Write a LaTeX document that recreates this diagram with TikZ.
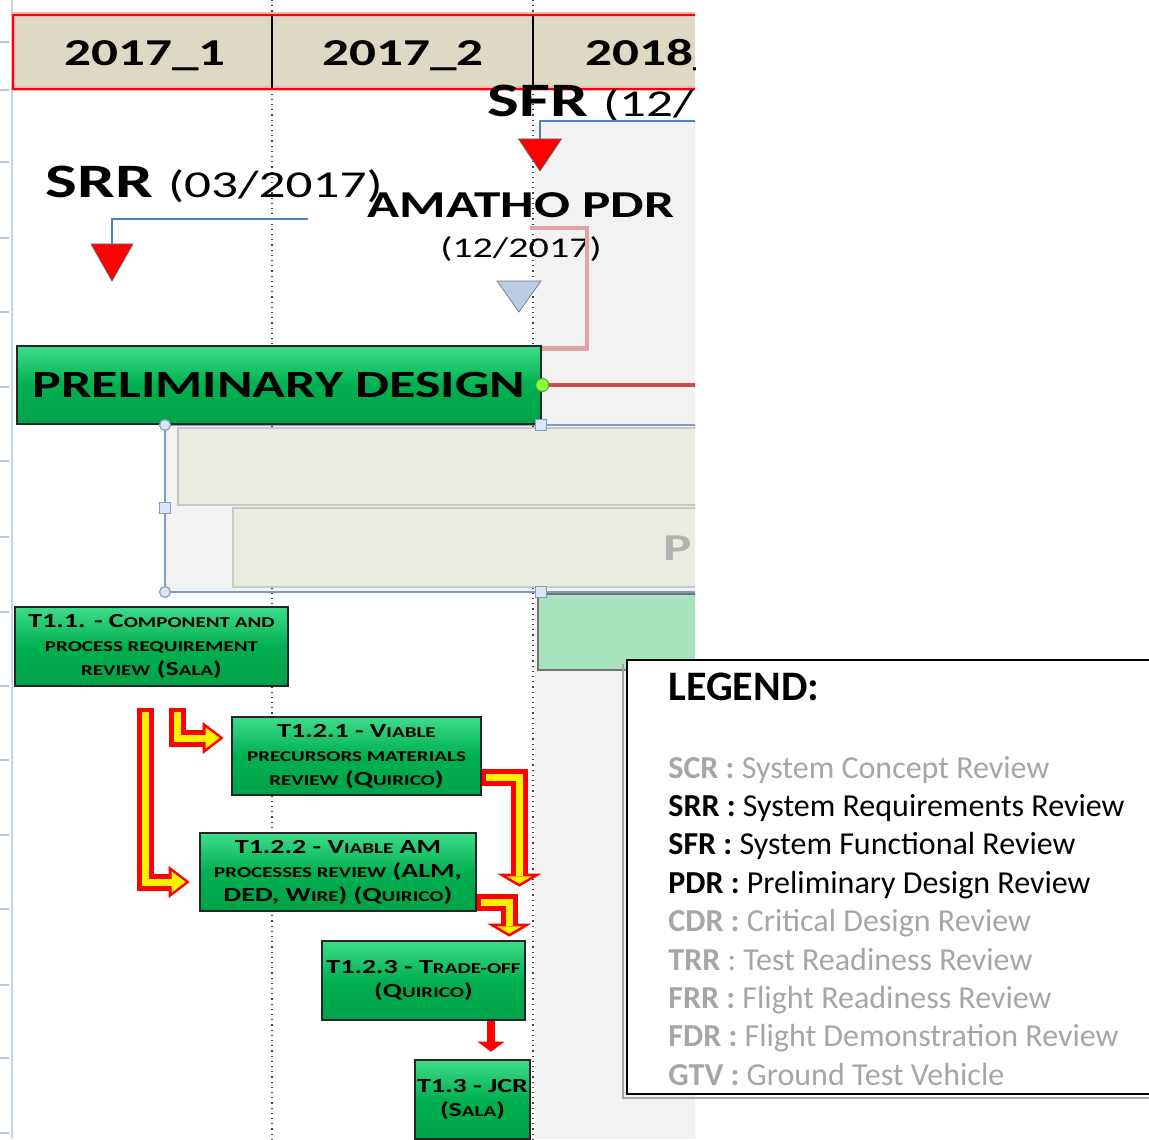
\documentclass[tikz,border=0pt]{standalone}
\usepackage{fontspec}
\setmainfont{Carlito}
\newfontfamily\chartfont{Carlito}[FakeStretch=1.4]
\usetikzlibrary{shapes.geometric,arrows.meta}

\definecolor{hdrbeige}{HTML}{DDD9C3}
\definecolor{hdrpink}{HTML}{F4B6B6}
\definecolor{chartgray}{HTML}{F2F2F2}
\definecolor{linkblue}{HTML}{4F81BD}
\definecolor{linkpink}{HTML}{E3A3A3}
\definecolor{pdred}{HTML}{C0504D}
\definecolor{boxtop}{HTML}{3FDC8A}
\definecolor{boxgreen}{HTML}{00B050}
\definecolor{boxbottom}{HTML}{00A248}
\definecolor{barbeige}{HTML}{EBECE1}
\definecolor{barmint}{HTML}{A8E3C0}
\definecolor{handleblue}{HTML}{DCE6F2}
\definecolor{handleedge}{HTML}{7F9DC4}
\definecolor{pdrblue}{HTML}{B9CDE5}
\definecolor{legendgray}{HTML}{A6A6A6}
\definecolor{rowblue}{HTML}{C6D6EA}

% fake small capitals for the task boxes
\newcommand\smallcap[1]{{\fontsize{7.5}{9}\selectfont\MakeUppercase{#1}}}

\tikzset{
    year/.style = {
        font=\chartfont\bfseries\fontsize{19}{19}\selectfont,
        inner sep=0pt,
    },
    milestone/.style = {
        isosceles triangle,
        isosceles triangle stretches,
        shape border rotate=-90,
        draw=black!60,
        fill=red,
        inner sep=0pt,
        anchor=apex,
    },
    tlink/.style = {draw=linkblue, line width=1.2pt},
    pdrlink/.style = {draw=linkpink, line width=2.4pt},
    pdline/.style = {draw=pdred, line width=2pt},
    taskbox/.style = {
        draw=black!85,
        line width=1.3pt,
        top color=boxtop,
        bottom color=boxbottom,
        middle color=boxgreen,
        align=center,
        inner sep=0pt,
        font=\chartfont\bfseries\fontsize{10}{12}\selectfont,
    },
    handle/.style = {
        draw=handleedge,
        fill=handleblue,
        line width=0.6pt,
        inner sep=0pt,
        minimum size=5.5pt,
    },
    flowbase/.style = {draw=red, line width=8.5pt},
    flow/.style = {
        flowbase,
        -{Triangle[length=10.5pt,width=16pt,line width=0pt]},
        postaction={draw=yellow, line width=3.5pt,
            -{Triangle[length=7pt,width=10.5pt,line width=0pt]},
            shorten >=2pt, shorten <=2pt},
    },
    flowwide/.style = {
        flowbase,
        -{Triangle[length=6.5pt,width=22pt,line width=0pt]},
        postaction={draw=yellow, line width=3.5pt,
            -{Triangle[length=3.7pt,width=12.5pt,line width=0pt]},
            shorten >=1.5pt, shorten <=2pt},
    },
    plainarrow/.style = {
        draw=red, line width=4pt,
        -{Triangle[length=5pt,width=13.5pt,line width=0pt]},
    },
    legendline/.style = {
        anchor=base west,
        inner sep=0pt,
        font=\fontsize{16}{19}\selectfont,
    },
}

\begin{document}
\begin{tikzpicture}[x=0.5pt, y=-0.5pt]
  \useasboundingbox (0,0) rectangle (1149,1139);

  \begin{scope}
  \clip (0,0) rectangle (695,1139);

  % spreadsheet background
  \fill[chartgray] (535,122) rectangle (700,1139);
  \fill[chartgray] (165,425) rectangle (535,592);
  \draw[rowblue, line width=1.2pt] (12,0) -- (12,1139);
  \foreach \y in {42,90,162,238,312,387,461,537,612,686,760,835,909,985,1058,1133}
    \draw[rowblue!80!gray, line width=0.6pt] (0,\y) -- (9,\y);
  \draw[black!75, dotted, line width=0.6pt] (272,0) -- (272,1139);
  \draw[black!75, dotted, line width=0.6pt] (533,0) -- (533,1139);

  % header row
  \fill[hdrbeige] (14,16) rectangle (700,88);
  \draw[hdrpink, line width=2.5pt] (13,15) rectangle (702,89);
  \draw[red, line width=1pt] (13,15) rectangle (702,89);
  \draw[black, line width=1.4pt] (272,16) -- (272,88);
  \draw[black, line width=1.4pt] (533,16) -- (533,88);
  \node[year, anchor=base] (y171) at (145,66) {2017\_1};
  \node[year, anchor=base] (y172) at (403,66) {2017\_2};
  \node[year, anchor=base west] (y181) at (585,66) {2018\_};

  % bars behind the selection
  \draw[draw=black!22, line width=0.6pt, fill=barbeige] (178,428) rectangle (720,505);
  \draw[draw=black!22, line width=0.6pt, fill=barbeige] (233,508) rectangle (720,587);
  \node[anchor=west, inner sep=0pt, text=black!30,
        font=\chartfont\bfseries\fontsize{19}{19}\selectfont] (barlbl) at (663,548) {P};
  \draw[draw=black!55, line width=0.8pt, fill=barmint] (538,594) rectangle (720,670);

  % selection frame
  \draw[handleedge, line width=0.7pt] (700,425) -- (165,425) -- (165,592) -- (700,592);

  % milestones
  \node[milestone, minimum width=21pt, minimum height=18.5pt] (srr) at (112,282) {};
  \node[milestone, minimum width=21.5pt, minimum height=16pt] (sfr) at (540,172) {};
  \node[milestone, fill=pdrblue, draw=black!50, minimum width=22pt, minimum height=15.5pt]
    (pdr) at (519,313) {};

  \node[anchor=base west, inner sep=0pt, font=\chartfont] (srrlbl) at (45,198)
    {\fontsize{24}{24}\selectfont\bfseries SRR \mdseries\fontsize{19}{19}\selectfont(03/2017)};
  \node[anchor=base west, inner sep=0pt, font=\chartfont] (sfrlbl) at (487,117)
    {\fontsize{24}{24}\selectfont\bfseries SFR \mdseries\fontsize{19}{19}\selectfont(12/};
  \node[anchor=base, inner sep=0pt, font=\chartfont\bfseries\fontsize{19}{19}\selectfont]
    (pdrlbl) at (521,218) {AMATHO PDR};
  \node[anchor=base, inner sep=0pt, font=\chartfont\fontsize{14.3}{14.3}\selectfont]
    (pdrdate) at (521,257) {(12/2017)};

  % milestone links
  \coordinate (srrtag) at (308,219);
  \coordinate (sfrtag) at (700,121);
  \coordinate (pdrhook) at (530,228);
  \draw[tlink] (srrtag) -| (srr.north);
  \draw[tlink] (sfr.north) |- (sfrtag);

  % preliminary design phase
  \node[taskbox, minimum width=262pt, minimum height=39pt,
        font=\chartfont\bfseries\fontsize{19.3}{19.3}\selectfont] (pd) at (279,385) {PRELIMINARY DESIGN};
  \draw[pdrlink] (pdrhook) -- ++(57,0) |- ([yshift=-2pt]pd.north east);
  \coordinate (pdtail) at (700,383);
  \draw[pdline] (pd.east) -- (pd.east -| pdtail);
  \node[circle, draw=green!50!black!70, fill=green!60!yellow!80, line width=0.5pt,
        inner sep=0pt, minimum size=6.5pt] (grip) at (pd.east) {};

  % selection handles
  \node[handle, circle] (h1) at (165,425) {};
  \node[handle, circle] (h2) at (165,592) {};
  \node[handle] (h3) at (165,508) {};
  \node[handle] (h4) at (541,425) {};
  \node[handle] (h5) at (541,592) {};

  % tasks
  \node[taskbox, minimum width=136.5pt, minimum height=39.5pt] (t11) at (151.5,646.5)
    {T1.1. - C\smallcap{omponent and}\\ \smallcap{process requirement}\\ \smallcap{review} (S\smallcap{ala})};
  \node[taskbox, minimum width=124.5pt, minimum height=39pt] (t121) at (356.5,756)
    {T1.2.1 - V\smallcap{iable}\\ \smallcap{precursors materials}\\ \smallcap{review} (Q\smallcap{uirico})};
  \node[taskbox, minimum width=138pt, minimum height=39pt] (t122) at (338,872)
    {T1.2.2 - V\smallcap{iable} AM\\ \smallcap{processes review} (ALM,\\ DED, W\smallcap{ire}) (Q\smallcap{uirico})};
  \node[taskbox, minimum width=101.5pt, minimum height=39.5pt] (t123) at (423.5,980.5)
    {T1.2.3 - T\smallcap{rade-off}\\ (Q\smallcap{uirico})};
  \node[taskbox, minimum width=57.5pt, minimum height=39.5pt] (t13) at (472.5,1099.5)
    {T1.3 - JCR\\ (S\smallcap{ala})};

  % task flow
  \draw[flow] ([xshift=13pt,yshift=-10.5pt]t11.south) |- ([xshift=-3.5pt,yshift=9pt]t121.west);
  \draw[flow] ([xshift=-3pt,yshift=-10.5pt]t11.south) |- ([xshift=-4.5pt,yshift=-5pt]t122.west);
  \draw[flowwide] ([yshift=-10.5pt]t121.east) -| ([xshift=-3.5pt,yshift=26.5pt]t123.north east);
  \draw[flowwide] ([yshift=-15pt]t122.east) -| ([xshift=-8.5pt,yshift=1.5pt]t123.north east);
  \draw[plainarrow] ([xshift=33.75pt]t123.south) -- ([xshift=9.25pt,yshift=3.5pt]t13.north);
  \end{scope}

  % legend
  \draw[black!35, line width=1.2pt] (623,664) -- (623,1098) -- (1155,1098);
  \draw[fill=white, draw=black, line width=1.1pt] (627,660) rectangle (1155,1094);
  \node[anchor=base west, inner sep=0pt, font=\bfseries\fontsize{21}{21}\selectfont]
    (legtitle) at (668,700) {LEGEND:};
  \foreach \abbr/\desc/\col [count=\i from 0] in {
      SCR~:/System Concept Review/legendgray,
      SRR~:/System Requirements Review/black,
      SFR~:/System Functional Review/black,
      PDR~:/Preliminary Design Review/black,
      CDR~:/Critical Design Review/legendgray,
      TRR\mdseries~:/Test Readiness Review/legendgray,
      FRR~:/Flight Readiness Review/legendgray,
      FDR~:/Flight Demonstration Review/legendgray,
      GTV~:/Ground Test Vehicle/legendgray}
    \node[legendline, text=\col] (leg\i) at (668,{778+38.4*\i}) {{\bfseries \abbr}~\desc};
\end{tikzpicture}
\end{document}
